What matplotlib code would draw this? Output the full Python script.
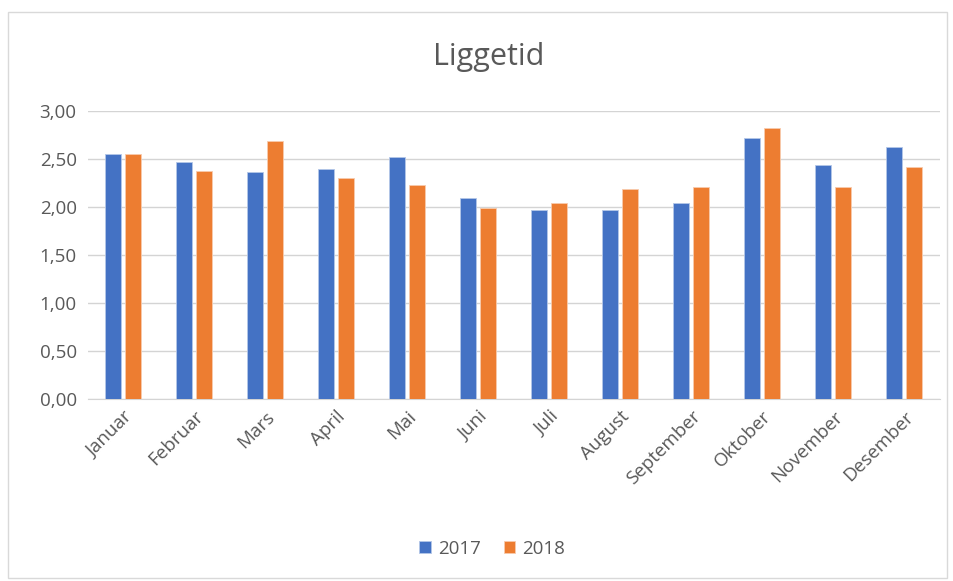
import numpy as np
import matplotlib.pyplot as plt
from matplotlib.patches import Rectangle

months = ['Januar', 'Februar', 'Mars', 'April', 'Mai', 'Juni', 'Juli',
          'August', 'September', 'Oktober', 'November', 'Desember']
liggetid_2017 = [2.55, 2.47, 2.36, 2.40, 2.52, 2.09, 1.97, 1.97, 2.04, 2.72, 2.44, 2.63]
liggetid_2018 = [2.55, 2.38, 2.69, 2.30, 2.23, 1.99, 2.04, 2.19, 2.21, 2.82, 2.21, 2.42]
yticks = [0, 0.5, 1.0, 1.5, 2.0, 2.5, 3.0]

plt.rcParams['font.family'] = ['Open Sans', 'DejaVu Sans']
text_col = '#595959'
grid_col = '#D4D4D4'

fig = plt.figure(figsize=(9.54, 5.81), dpi=100)
ax = fig.add_axes([0.092, 0.313, 0.893, 0.496])

x = np.arange(len(months))
w = 0.225
off = 0.141
ax.bar(x - off, liggetid_2017, w, color='#4472C4', edgecolor='#B4C7E7', linewidth=0.6, label='2017', zorder=3)
ax.bar(x + off, liggetid_2018, w, color='#ED7D31', edgecolor='#F8CBAD', linewidth=0.6, label='2018', zorder=3)

ax.set_xlim(-0.5, len(months) - 0.5)
ax.set_ylim(0, 3.0)
ax.set_yticks(yticks)
ax.set_yticklabels([f'{v:.2f}'.replace('.', ',') for v in yticks], color=text_col, fontsize=13.5)
ax.set_xticks(x)
ax.set_xticklabels(months, rotation=45, ha='right', rotation_mode='anchor', color=text_col, fontsize=13.5)
ax.tick_params(length=0, pad=8)
ax.tick_params(axis='x', pad=6)
ax.yaxis.grid(True, color=grid_col, linewidth=1, zorder=0)
for s in ['top', 'right', 'left']:
    ax.spines[s].set_visible(False)
ax.spines['bottom'].set_color(grid_col)

fig.text(0.512, 0.902, 'Liggetid', ha='center', va='center', fontsize=22, color=text_col)

fig.legend(loc='center', bbox_to_anchor=(0.516, 0.055), ncol=2, frameon=False,
           fontsize=13.5, handlelength=0.6, handleheight=0.6, columnspacing=1.2,
           handletextpad=0.4, labelcolor=text_col)

fig.patches.append(Rectangle((0.008, 0.005), 0.985, 0.975, transform=fig.transFigure,
                             fill=False, edgecolor='#D9D9D9', linewidth=1))

fig.savefig('out.png', dpi=100)
